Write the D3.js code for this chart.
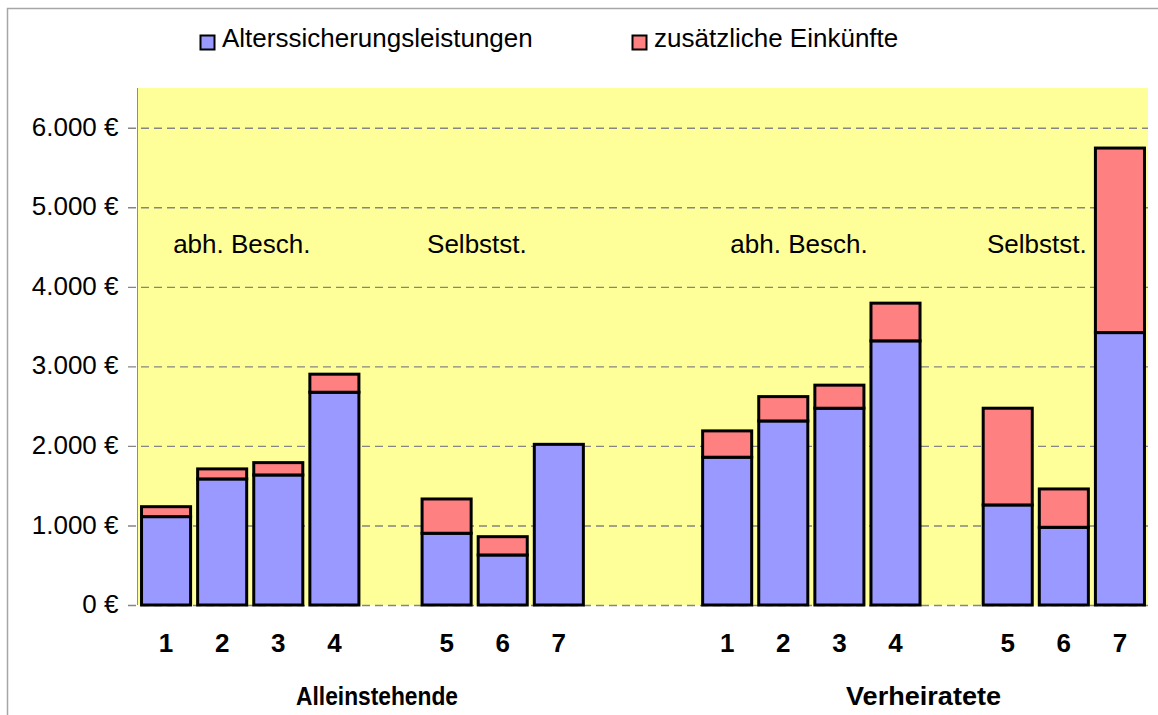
<!DOCTYPE html>
<html>
<head>
<meta charset="utf-8">
<script src="https://cdn.jsdelivr.net/npm/d3@7"></script>
<style>
  html, body { margin: 0; padding: 0; background: #ffffff; }
  svg { display: block; font-family: "Liberation Sans", Arial, sans-serif; }
</style>
</head>
<body>
<svg id="chart" width="1158" height="715"></svg>
<script>
// ---- data ----
const slots = ["A1","A2","A3","A4","g1","A5","A6","A7","g2","g3","V1","V2","V3","V4","g4","V5","V6","V7"];
const xLabels = ["1","2","3","4","","5","6","7","","","1","2","3","4","","5","6","7"];
const alterssicherung = [1111,1585,1635,2675,null,902,629,2020,null,null,1858,2314,2474,3321,null,1258,977,3425];
const zusaetzlich    = [125,126,155,227,null,431,230,0,null,null,331,306,290,474,null,1216,482,2320];
const seriesNames = ["Alterssicherungsleistungen","zusätzliche Einkünfte"];
const yTicks = [0,1000,2000,3000,4000,5000,6000];
const groupLabels = [
  {text:"abh. Besch.", pos:1.85},
  {text:"Selbstst.", pos:6.04},
  {text:"abh. Besch.", pos:11.78},
  {text:"Selbstst.", pos:16.02}
];
const mainLabels = [
  {text:"Alleinstehende", pos:4.26, len:162},
  {text:"Verheiratete", pos:14.0, len:155}
];

// ---- styles ----
const colors = ["#9999ff","#ff8080"];
const plotLeft = 138, plotRight = 1148, plotTop = 88, plotBottom = 605;

const svg = d3.select("#chart");

// outer frame
svg.append("rect").attr("x",7.5).attr("y",8.5).attr("width",1170).attr("height",730)
  .attr("fill","#ffffff").attr("stroke","#a6a6a6").attr("stroke-width",1.5);

const x = d3.scaleBand().domain(slots).range([plotLeft, plotRight]).paddingInner(0.09).paddingOuter(0.045);
const xPos = d3.scaleLinear().domain([0, slots.length]).range([plotLeft, plotRight]);
const y = d3.scaleLinear().domain([0, 6500]).range([plotBottom, plotTop]);

// plot area
svg.append("rect").attr("x",plotLeft).attr("y",plotTop)
  .attr("width",plotRight-plotLeft).attr("height",plotBottom-plotTop).attr("fill","#ffff99");

// gridlines (dashed) with ticks extending left
svg.append("g").selectAll("line").data(yTicks).join("line")
  .attr("x1",plotLeft-10).attr("x2",plotRight)
  .attr("y1",d=>y(d)+0.5).attr("y2",d=>y(d)+0.5)
  .attr("stroke","#858585").attr("stroke-width",1.4).attr("stroke-dasharray","8,5");

// y axis
const yAxis = d3.axisLeft(y).tickValues(yTicks).tickSize(0).tickPadding(19)
  .tickFormat(d => d3.format(",")(d).replace(/,/g,".") + " €");
const ya = svg.append("g").attr("transform",`translate(${plotLeft-0.5},0)`).call(yAxis);
ya.select(".domain").attr("stroke","#8c8c8c").attr("stroke-width",1)
  .attr("d",`M0,${plotTop}V${plotBottom}`);
ya.selectAll("text").attr("font-size",26).attr("fill","#000")
  .attr("font-family","'Liberation Sans', Arial, sans-serif").attr("dy","0.29em");

// stacked bars
const rows = slots.map((s,i)=>({slot:s, a:alterssicherung[i], z:zusaetzlich[i]})).filter(r=>r.a!==null);
const stack = d3.stack().keys(["a","z"]);
const stacked = stack(rows);
stacked.forEach((layer, li) => {
  svg.append("g").selectAll("rect").data(layer.filter(d=> (d[1]-d[0])>0)).join("rect")
    .attr("x", d=>x(d.data.slot)+1)
    .attr("width", x.bandwidth()-2)
    .attr("y", d=>y(d[1]))
    .attr("height", d=>y(d[0])-y(d[1]))
    .attr("fill", colors[li]).attr("stroke","#000").attr("stroke-width",3);
});

// x category labels
svg.append("g").selectAll("text").data(slots.map((s,i)=>({slot:s,label:xLabels[i]})).filter(d=>d.label))
  .join("text")
  .attr("x", d=>x(d.slot)+x.bandwidth()/2).attr("y",652)
  .attr("text-anchor","middle").attr("font-size",26).attr("font-weight","bold").text(d=>d.label);

// group labels
svg.append("g").selectAll("text").data(groupLabels).join("text")
  .attr("x", d=>xPos(d.pos)).attr("y",253).attr("text-anchor","middle")
  .attr("font-size",26).text(d=>d.text);

svg.append("g").selectAll("text").data(mainLabels).join("text")
  .attr("x", d=>xPos(d.pos)-d.len/2).attr("y",705)
  .attr("textLength",d=>d.len).attr("lengthAdjust","spacingAndGlyphs")
  .attr("font-size",26).attr("font-weight","bold").text(d=>d.text);

// legend
const legendPos = [200, 632];
const lg = svg.append("g").selectAll("g").data(seriesNames).join("g")
  .attr("transform",(d,i)=>`translate(${legendPos[i]},0)`);
lg.append("rect").attr("x",0.5).attr("y",35.5).attr("width",14).attr("height",14)
  .attr("fill",(d,i)=>colors[i]).attr("stroke","#000").attr("stroke-width",2);
lg.append("text").attr("x",22).attr("y",47).attr("font-size",26).text(d=>d);
</script>
</body>
</html>
